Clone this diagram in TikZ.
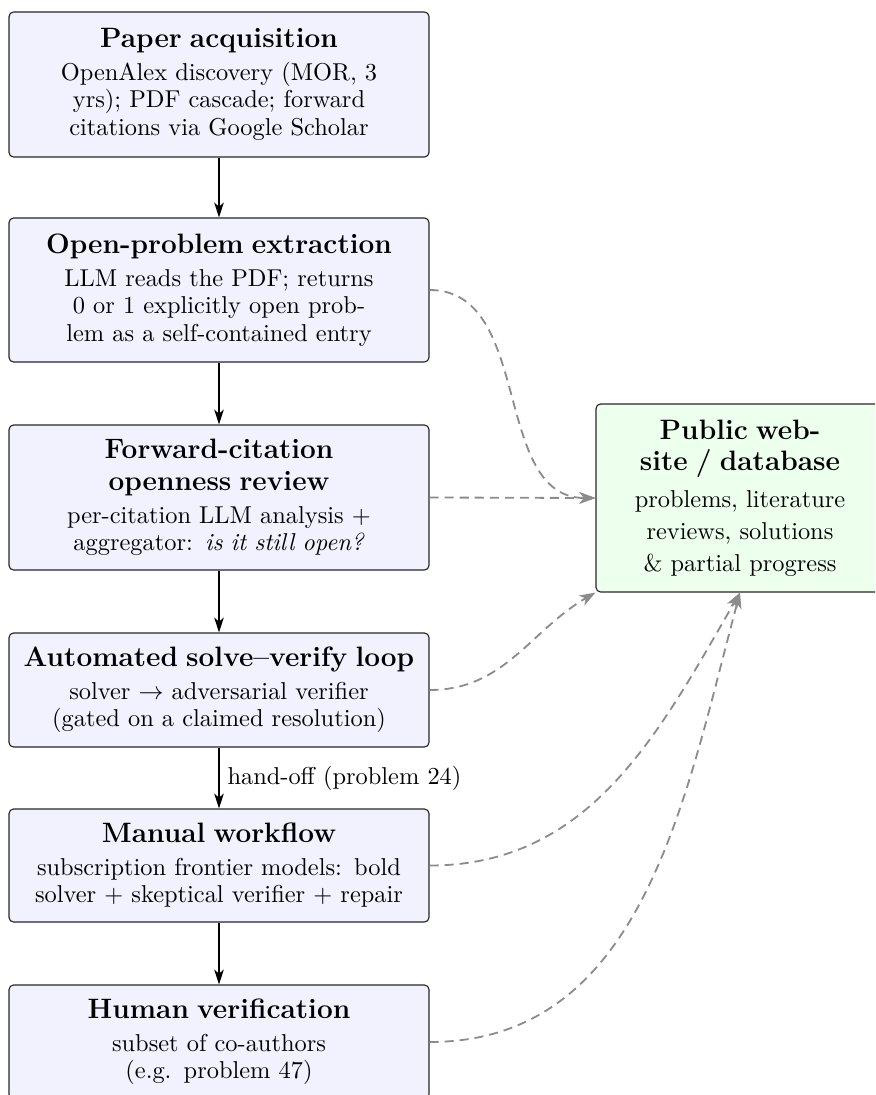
\documentclass[tikz,border=0pt]{standalone}
\usetikzlibrary{arrows.meta}
\newcommand\stitle{\fontsize{12.3}{14}\selectfont\bfseries}
\begin{document}
\begin{tikzpicture}[x=0.4386pt,y=-0.4386pt,
  every node/.style={font=\fontsize{10.7}{12.06}\selectfont},
  stage/.style={draw=black!85, fill=blue!5, rounded corners=2pt, text width=180pt,
    inner xsep=2.1pt, inner ysep=0pt, align=center, line width=0.5pt},
  pubbox/.style={draw=black!85, fill=green!7, rounded corners=2pt, text width=122pt,
    inner xsep=2.15pt, inner ysep=0pt, align=center, line width=0.5pt,
    minimum height=82.46pt},
  flow/.style={-{Stealth[length=6.5pt,width=4.2pt,inset=1.8pt]}, line width=0.8pt},
  feed/.style={-{Stealth[length=7pt,width=5pt,inset=2pt]}, draw=black!45,
    dash pattern=on 4pt off 2.6pt, line width=0.8pt}]
\useasboundingbox (0,0) rectangle (875,1095);
\clip (0,0) rectangle (875,1095);

\node[stage, minimum height=63.6pt] (acq) at (219,84.5)
  {{\stitle Paper acquisition}\\[2.2pt]
   OpenAlex discovery (MOR, 3\\ yrs); PDF cascade; forward\\ citations via Google Scholar};
\node[stage, minimum height=63.16pt] (ext) at (219,290)
  {{\stitle Open-problem extraction}\\[2.2pt]
   LLM reads the PDF; returns\\ 0 or 1 explicitly open prob-\\ lem as a self-contained entry};
\node[stage, minimum height=63.6pt] (rev) at (219,497.5)
  {{\stitle Forward-citation}\\[1.9pt]
   {\stitle openness review}\\[2.2pt]
   per-citation LLM analysis +\\ aggregator: \textit{is it still open?}};
\node[stage, minimum height=50pt] (auto) at (219,690)
  {{\stitle Automated solve--verify loop}\\[2.2pt]
   solver $\rightarrow$ adversarial verifier\\ (gated on a claimed resolution)};
\node[stage, minimum height=49.56pt] (man) at (219,865.5)
  {{\stitle Manual workflow}\\[2.2pt]
   subscription frontier models: bold\\ solver + skeptical verifier + repair};
\node[stage, minimum height=50pt] (hum) at (219,1042)
  {{\stitle Human verification}\\[2.2pt]
   subset of co-authors\\ (e.g. problem 47)};

\node[pubbox] (pub) at (740,498)
  {{\stitle Public web-}\\[1.9pt]
   {\stitle site / database}\\[4.1pt]
   problems, literature\\[1.9pt] reviews, solutions\\[1.9pt] \& partial progress};

\draw[flow] (acq) -- (ext);
\draw[flow] (ext) -- (rev);
\draw[flow] (rev) -- (auto);
\draw[flow] (auto) -- node[right] {hand-off (problem 24)} (man);
\draw[flow] (man) -- (hum);

\draw[feed] (ext.east) to[out=0,in=180] (pub.west);
\draw[feed] (rev.east) -- (pub.west);
\draw[feed] (auto.east) to[out=0,in=210] (pub.south west);
\draw[feed] (man.east) to[out=0,in=-120] (pub.south);
\draw[feed] (hum.east) to[out=0,in=-105] (pub.south);
\end{tikzpicture}
\end{document}
